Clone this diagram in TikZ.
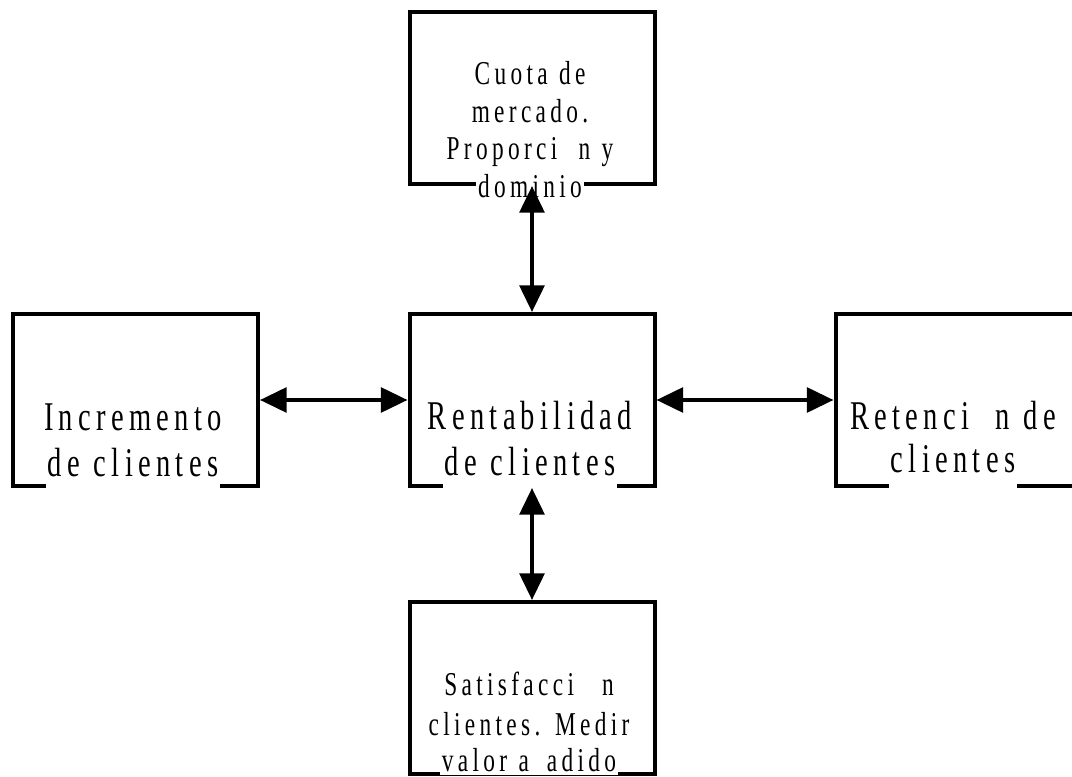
\documentclass[tikz,border=0pt]{standalone}
\usepackage{fontspec}
\setmainfont{Liberation Serif}
\newfontfamily\boxfont{Liberation Serif}[FakeStretch=0.7,LetterSpace=13]
\usetikzlibrary{arrows.meta}
\newcommand\bigtxt{\boxfont\fontsize{30.6pt}{34pt}\selectfont\spaceskip=0.34em\relax}
\newcommand\smalltxt{\boxfont\fontsize{25pt}{28pt}\selectfont\spaceskip=0.34em\relax}
\tikzset{
  box/.style={draw, line width=3pt, minimum width=183.75pt, minimum height=129pt, inner sep=0pt},
  bigline/.style={font=\bigtxt, anchor=base, inner sep=0pt},
  smallline/.style={font=\smalltxt, anchor=base, inner sep=0pt},
  cut/.style={fill=white, inner xsep=1.5pt, inner ysep=0pt, text depth=12pt},
  link/.style={line width=3pt, {Triangle[length=20pt,width=18.5pt]}-{Triangle[length=20pt,width=18.5pt]}}
}
\begin{document}
\begin{tikzpicture}[x=0.75pt,y=-0.75pt]
\clip (0,0) rectangle (1072,777);
\fill[white] (0,0) rectangle (1072,777);
% boxes
\node[box] (T) at (532,98) {};
\node[box] (C) at (532,400) {};
\node[box] (L) at (135.5,400) {};
\node[box] (R) at (958,400) {};
\node[box] (B) at (532,688) {};
% top texts
\node[smallline] (T1) at (530,85) {Cuota de};
\node[smallline] (T2) at (530,122.5) {mercado.};
\node[smallline] (T3) at (530,160) {Proporci \hspace{0.3em}n y};
\node[smallline,cut] (T4) at (530,197.5) {dominio};
% centre texts
\node[bigline] (C1) at (530,430) {Rentabilidad};
\node[bigline,cut] (C2) at (530,475) {de clientes};
% left texts
\node[bigline] (L1) at (133,431) {Incremento};
\node[bigline,cut] (L2) at (133,477) {de clientes};
% right texts
\node[bigline] (R1) at (953,430) {Retenci \hspace{0.3em}n de};
\node[bigline,cut] (R2) at (953,473) {clientes};
% bottom texts
\node[smallline] (B1) at (529,695) {Satisfacci \hspace{0.5em}n};
\node[smallline] (B2) at (529,735) {clientes. Medir};
\node[smallline,cut,text depth=3pt] (B3) at (529,771) {valor a \hspace{0.2em}adido};
% connectors
\draw[link] (T.south) -- (C.north);
\draw[link] (L.east) -- (C.west);
\draw[link] (C.east) -- (R.west);
\draw[link] (C.south) -- (B.north);
\end{tikzpicture}
\end{document}
